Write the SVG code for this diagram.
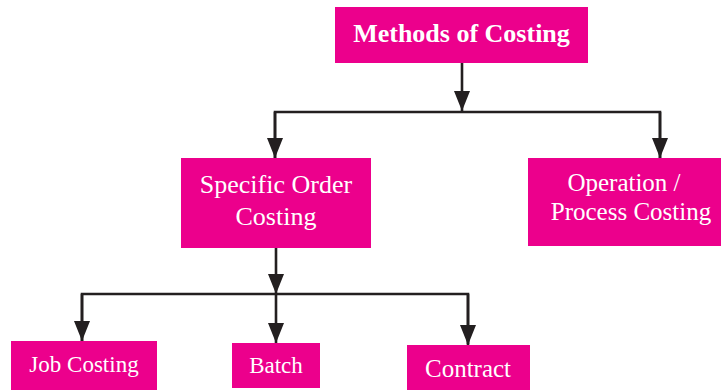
<svg xmlns="http://www.w3.org/2000/svg" width="721" height="390" viewBox="0 0 721 390">
<style>
.box{fill:#EC008C;}
.t{font-family:"Liberation Serif","Times New Roman",serif;fill:#ffffff;text-anchor:middle;}
.b{font-weight:bold;}
.ln{fill:none;stroke:#231F20;stroke-width:2.6;}
</style>
<defs>
<marker id="ar" markerUnits="userSpaceOnUse" markerWidth="20" markerHeight="16" viewBox="0 0 20 16" refX="20" refY="8" orient="auto">
<path d="M0,0 L20,8 L0,16 Z" fill="#231F20"/>
</marker>
</defs>
<g id="connectors">
<path class="ln" d="M462,63 V111" marker-end="url(#ar)"/>
<path class="ln" d="M275,158 V112 H660 V158"/>
<path class="ln" d="M275,112 V158" marker-end="url(#ar)"/>
<path class="ln" d="M660,112 V158" marker-end="url(#ar)"/>
<path class="ln" d="M276,248 V294" marker-end="url(#ar)"/>
<path class="ln" d="M82,341 V294 H468 V344"/>
<path class="ln" d="M82,294 V341" marker-end="url(#ar)"/>
<path class="ln" d="M276,294 V343" marker-end="url(#ar)"/>
<path class="ln" d="M468,294 V345" marker-end="url(#ar)"/>
</g>
<g id="methods">
<rect class="box" x="335" y="7" width="253" height="56"/>
<text class="t b" x="461.5" y="42" font-size="26">Methods of Costing</text>
</g>
<g id="specific">
<rect class="box" x="181" y="158" width="190" height="90"/>
<text class="t" x="276" y="193" font-size="26">Specific Order</text>
<text class="t" x="276" y="225" font-size="26">Costing</text>
</g>
<g id="operation">
<rect class="box" x="528" y="158" width="200" height="88"/>
<text class="t" x="624" y="191" font-size="25">Operation /</text>
<text class="t" x="631" y="220" font-size="25">Process Costing</text>
</g>
<g id="job">
<rect class="box" x="11" y="341" width="146" height="49"/>
<text class="t" x="84" y="372" font-size="23">Job Costing</text>
</g>
<g id="batch">
<rect class="box" x="232" y="343" width="88" height="45"/>
<text class="t" x="276" y="373" font-size="23">Batch</text>
</g>
<g id="contract">
<rect class="box" x="407" y="345" width="123" height="45"/>
<text class="t" x="468" y="377" font-size="25">Contract</text>
</g>
</svg>
